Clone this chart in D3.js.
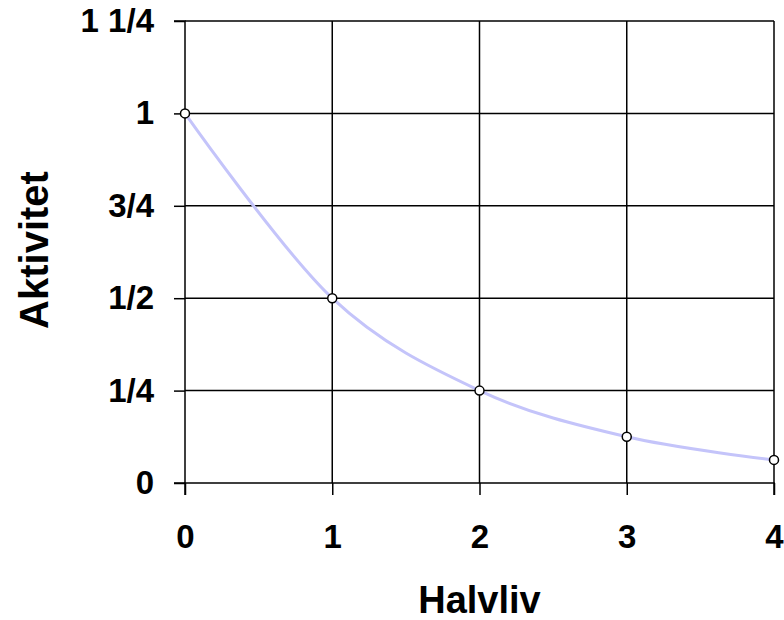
<!DOCTYPE html>
<html>
<head>
<meta charset="utf-8">
<script src="https://cdn.jsdelivr.net/npm/d3@7"></script>
<style>
html,body{margin:0;padding:0;background:#fff;}
svg{display:block;font-family:"Liberation Sans",Arial,sans-serif;font-weight:bold;}
</style>
</head>
<body>
<svg id="chart" width="784" height="620"></svg>
<script>
const halfLives = [0, 1, 2, 3, 4];
const activity = [1, 0.5, 0.25, 0.125, 0.0625];
const yTickValues = [0, 0.25, 0.5, 0.75, 1, 1.25];
const yTickLabels = ["0", "1/4", "1/2", "3/4", "1", "1 1/4"];
const xTickValues = [0, 1, 2, 3, 4];
const xTickLabels = ["0", "1", "2", "3", "4"];
const xTitle = "Halvliv";
const yTitle = "Aktivitet";

const svg = d3.select("#chart");
const m = {left:185, right:774, top:21, bottom:483};
const x = d3.scaleLinear().domain([0,4]).range([m.left, m.right]);
const y = d3.scaleLinear().domain([0,1.25]).range([m.bottom, m.top]);

// gridlines
svg.append("g").selectAll("line").data(yTickValues.slice(1)).join("line")
  .attr("x1", m.left).attr("x2", m.right)
  .attr("y1", d=>y(d)).attr("y2", d=>y(d))
  .attr("stroke","#000").attr("stroke-width",1.5);
svg.append("g").selectAll("line").data(xTickValues.slice(1)).join("line")
  .attr("x1", d=>x(d)).attr("x2", d=>x(d))
  .attr("y1", m.top).attr("y2", m.bottom)
  .attr("stroke","#000").attr("stroke-width",1.5);

// axes
const yAxis = d3.axisLeft(y).tickValues(yTickValues).tickSize(11).tickPadding(20)
  .tickFormat((d,i)=>yTickLabels[i]);
const gy = svg.append("g").attr("transform",`translate(${m.left},0)`).call(yAxis);
const xAxis = d3.axisBottom(x).tickValues(xTickValues).tickSize(12).tickPadding(30)
  .tickFormat((d,i)=>xTickLabels[i]);
const gx = svg.append("g").attr("transform",`translate(0,${m.bottom})`).call(xAxis);
[gx, gy].forEach(g=>{
  g.select(".domain").attr("stroke","#000").attr("stroke-width",1.5);
  g.selectAll(".tick line").attr("stroke","#000").attr("stroke-width",1.5);
  g.selectAll(".tick text").attr("fill","#000").style("font-size","33px")
   .style("font-family","'Liberation Sans',Arial,sans-serif").style("font-weight","bold");
});
gy.select(".domain").attr("d", `M-11,${m.top}H0V${m.bottom}H-11`);
gx.select(".domain").attr("d", `M${m.left},12V0H${m.right}V12`);

// curve
const pts = halfLives.map((h,i)=>[h, activity[i]]);
svg.append("path")
  .attr("d", d3.line().x(d=>x(d[0])).y(d=>y(d[1])).curve(d3.curveCatmullRom.alpha(0))(pts))
  .attr("fill","none").attr("stroke","#c4c4fa").attr("stroke-width",3);

svg.append("g").selectAll("circle").data(pts).join("circle")
  .attr("cx", d=>x(d[0])).attr("cy", d=>y(d[1])).attr("r",4.5)
  .attr("fill","#fff").attr("stroke","#000").attr("stroke-width",1.5);

// titles
svg.append("text").attr("x", (m.left+m.right)/2).attr("y", 613)
  .attr("text-anchor","middle").style("font-size","38px").text(xTitle);
svg.append("text").attr("transform", `translate(48,250) rotate(-90)`)
  .attr("text-anchor","middle").style("font-size","40px").text(yTitle);
</script>
</body>
</html>
